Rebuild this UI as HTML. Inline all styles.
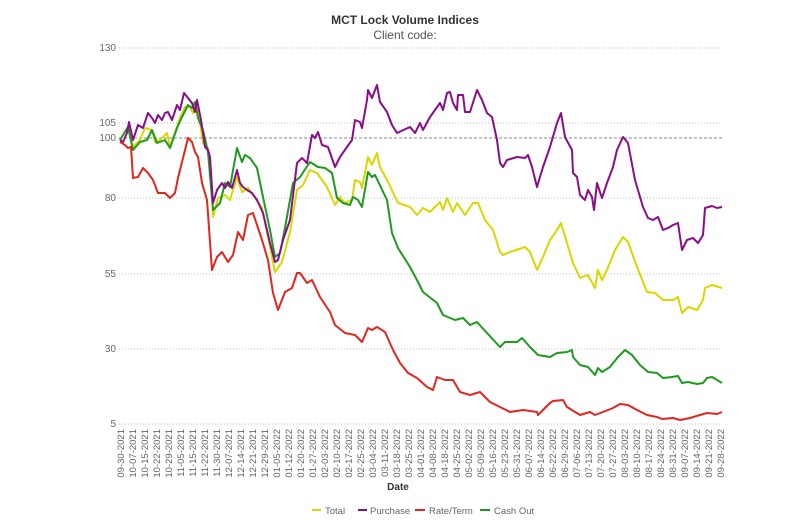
<!DOCTYPE html>
<html><head><meta charset="utf-8"><style>
html,body{margin:0;padding:0;background:#fff;}
svg{display:block;font-family:"Liberation Sans",sans-serif;}
</style></head><body>
<svg width="808" height="526" viewBox="0 0 808 526" xmlns="http://www.w3.org/2000/svg">
<text x="405" y="24" text-anchor="middle" font-size="12" font-weight="bold" fill="#333">MCT Lock Volume Indices</text>
<text x="405" y="39" text-anchor="middle" font-size="12" fill="#555">Client code:</text>
<g stroke="#bbb" stroke-width="1" stroke-dasharray="1,2">
<line x1="119" y1="48" x2="722" y2="48"/>
<line x1="119" y1="123" x2="722" y2="123"/>
<line x1="119" y1="198" x2="722" y2="198"/>
<line x1="119" y1="274" x2="722" y2="274"/>
<line x1="119" y1="349" x2="722" y2="349"/>
<line x1="119" y1="424" x2="722" y2="424"/>
</g>
<line x1="119" y1="138" x2="722" y2="138" stroke="#888" stroke-width="1" stroke-dasharray="3,2"/>
<g font-size="10" fill="#666" text-anchor="end">
<text x="116" y="51">130</text>
<text x="116" y="126">105</text>
<text x="116" y="141">100</text>
<text x="116" y="201">80</text>
<text x="116" y="277">55</text>
<text x="116" y="352">30</text>
<text x="116" y="427">5</text>
</g>
<g font-size="9.5" fill="#666" text-anchor="end" id="xl"></g>
<text x="398" y="490" text-anchor="middle" font-size="10" font-weight="bold" fill="#333">Date</text>
<g fill="none" stroke-width="2" stroke-linejoin="round">
<polyline stroke="#d8d800" points="120,140 128,127 133,147 140,140 145,128 152,130 155,142 160,140 167,133 170,147 177,127 180,118 185,107 190,107 193,113 197,102 203,143 208,148 212,190 213,217 218,198 225,195 230,200 237,177 242,192 248,188 253,195 262,208 268,237 275,272 282,262 290,232 297,190 303,185 310,170 317,173 327,187 335,205 340,197 345,203 352,200 355,180 360,182 362,188 368,157 372,165 377,153 380,167 388,182 398,203 410,207 417,215 423,208 430,212 440,202 443,210 447,198 453,212 457,203 465,215 473,203 478,203 485,220 493,230 500,252 503,255 510,252 525,247 530,252 537,270 543,257 550,240 557,230 561,223 567,243 573,263 580,278 588,275 595,288 598,270 602,280 607,270 615,250 623,237 628,242 637,267 647,292 655,293 663,300 673,300 678,297 682,313 688,307 697,310 703,300 705,288 712,285 722,288"/>
<polyline stroke="#1e9a1e" points="120,140 128,127 133,150 140,142 147,140 152,130 157,143 165,140 170,148 177,128 182,117 188,105 192,108 195,102 198,118 203,130 208,152 213,210 220,203 225,183 230,187 237,148 242,162 245,155 250,158 257,168 263,197 270,230 275,257 280,253 285,228 293,183 300,177 310,162 318,167 325,168 332,173 337,198 343,203 350,205 353,197 358,200 362,207 368,172 372,177 375,175 387,200 392,233 398,248 410,267 418,282 423,292 437,303 443,315 455,320 463,318 470,325 477,322 487,333 500,347 505,342 517,342 522,338 530,347 538,355 550,357 557,353 567,352 572,350 573,357 580,365 588,367 595,375 598,368 602,372 610,367 618,357 625,350 632,355 640,365 648,372 657,373 663,378 672,377 678,376 682,383 688,382 697,384 703,383 707,378 712,377 722,383"/>
<polyline stroke="#8a0d8a" points="120,140 123,142 127,133 129,122 133,140 138,125 143,128 148,113 152,118 155,123 158,115 162,120 165,113 168,112 172,120 177,105 180,110 184,93 188,98 192,103 195,112 197,100 201,120 205,147 208,150 210,157 213,203 217,190 222,183 225,188 228,182 232,188 237,170 240,183 243,187 247,190 252,193 257,200 263,213 270,243 275,262 278,260 283,240 290,220 297,163 302,158 307,163 312,135 315,138 318,132 322,145 328,147 335,167 340,157 347,147 352,140 355,120 360,122 362,128 367,100 368,90 372,98 377,85 380,102 387,112 392,125 397,133 410,127 415,133 420,123 423,130 430,117 440,103 443,110 447,93 450,92 453,103 457,110 458,95 463,95 465,112 470,112 477,90 482,100 487,113 492,117 497,140 500,163 503,167 507,160 517,157 525,158 528,155 532,167 537,187 543,167 550,147 557,123 561,113 565,137 572,150 573,173 577,177 580,195 585,200 588,190 592,197 594,210 597,183 602,198 607,183 613,167 617,150 623,137 628,143 635,180 643,207 648,218 653,220 658,217 663,230 668,228 673,225 678,223 682,250 687,240 693,238 698,243 703,235 705,208 712,206 717,208 722,207"/>
<polyline stroke="#e0261e" points="120,142 125,145 128,148 131,147 133,178 138,177 143,168 148,173 153,180 158,193 165,193 170,198 175,193 178,178 183,158 188,138 192,142 195,152 198,157 202,183 207,200 212,270 217,257 222,252 228,262 233,255 238,232 243,240 248,215 253,213 262,240 268,260 273,293 278,310 285,292 292,288 297,273 300,273 307,283 312,280 320,297 330,312 335,325 345,333 355,335 362,342 368,328 372,330 377,327 385,332 393,350 400,363 408,373 417,378 427,387 433,390 437,377 445,380 453,380 460,392 470,395 480,392 490,402 500,407 510,412 523,410 537,412 538,415 550,403 553,401 563,400 567,407 580,415 590,412 595,415 603,412 613,408 620,404 628,405 637,410 647,415 657,417 662,419 673,418 680,420 690,418 700,415 707,413 717,414 722,412"/>
</g>
<g stroke-width="2">
<line x1="312" y1="510" x2="321" y2="510" stroke="#d8d800"/>
<line x1="358" y1="510" x2="367" y2="510" stroke="#8a0d8a"/>
<line x1="415" y1="510" x2="425" y2="510" stroke="#e0261e"/>
<line x1="480" y1="510" x2="490" y2="510" stroke="#1e9a1e"/>
</g>
<g font-size="9.5" fill="#666">
<text x="325" y="514">Total</text>
<text x="370" y="514">Purchase</text>
<text x="429" y="514">Rate/Term</text>
<text x="494" y="514">Cash Out</text>
</g>
<g font-size="9.5" fill="#666" text-anchor="end">
<text transform="translate(124,429) rotate(-90)">09-30-2021</text>
<text transform="translate(136,429) rotate(-90)">10-07-2021</text>
<text transform="translate(148,429) rotate(-90)">10-15-2021</text>
<text transform="translate(160,429) rotate(-90)">10-22-2021</text>
<text transform="translate(172,429) rotate(-90)">10-29-2021</text>
<text transform="translate(184,429) rotate(-90)">11-05-2021</text>
<text transform="translate(196,429) rotate(-90)">11-15-2021</text>
<text transform="translate(208,429) rotate(-90)">11-22-2021</text>
<text transform="translate(220,429) rotate(-90)">11-30-2021</text>
<text transform="translate(232,429) rotate(-90)">12-07-2021</text>
<text transform="translate(244,429) rotate(-90)">12-14-2021</text>
<text transform="translate(256,429) rotate(-90)">12-21-2021</text>
<text transform="translate(268,429) rotate(-90)">12-29-2021</text>
<text transform="translate(280,429) rotate(-90)">01-05-2022</text>
<text transform="translate(292,429) rotate(-90)">01-12-2022</text>
<text transform="translate(304,429) rotate(-90)">01-20-2022</text>
<text transform="translate(316,429) rotate(-90)">01-27-2022</text>
<text transform="translate(328,429) rotate(-90)">02-03-2022</text>
<text transform="translate(340,429) rotate(-90)">02-10-2022</text>
<text transform="translate(352,429) rotate(-90)">02-17-2022</text>
<text transform="translate(364,429) rotate(-90)">02-25-2022</text>
<text transform="translate(376,429) rotate(-90)">03-04-2022</text>
<text transform="translate(388,429) rotate(-90)">03-11-2022</text>
<text transform="translate(400,429) rotate(-90)">03-18-2022</text>
<text transform="translate(412,429) rotate(-90)">03-25-2022</text>
<text transform="translate(424,429) rotate(-90)">04-01-2022</text>
<text transform="translate(436,429) rotate(-90)">04-08-2022</text>
<text transform="translate(448,429) rotate(-90)">04-18-2022</text>
<text transform="translate(460,429) rotate(-90)">04-25-2022</text>
<text transform="translate(472,429) rotate(-90)">05-02-2022</text>
<text transform="translate(484,429) rotate(-90)">05-09-2022</text>
<text transform="translate(496,429) rotate(-90)">05-16-2022</text>
<text transform="translate(508,429) rotate(-90)">05-23-2022</text>
<text transform="translate(520,429) rotate(-90)">05-31-2022</text>
<text transform="translate(532,429) rotate(-90)">06-07-2022</text>
<text transform="translate(544,429) rotate(-90)">06-14-2022</text>
<text transform="translate(556,429) rotate(-90)">06-22-2022</text>
<text transform="translate(568,429) rotate(-90)">06-29-2022</text>
<text transform="translate(580,429) rotate(-90)">07-06-2022</text>
<text transform="translate(592,429) rotate(-90)">07-13-2022</text>
<text transform="translate(604,429) rotate(-90)">07-20-2022</text>
<text transform="translate(616,429) rotate(-90)">07-27-2022</text>
<text transform="translate(628,429) rotate(-90)">08-03-2022</text>
<text transform="translate(640,429) rotate(-90)">08-10-2022</text>
<text transform="translate(652,429) rotate(-90)">08-17-2022</text>
<text transform="translate(664,429) rotate(-90)">08-24-2022</text>
<text transform="translate(676,429) rotate(-90)">08-31-2022</text>
<text transform="translate(688,429) rotate(-90)">09-07-2022</text>
<text transform="translate(700,429) rotate(-90)">09-14-2022</text>
<text transform="translate(712,429) rotate(-90)">09-21-2022</text>
<text transform="translate(724,429) rotate(-90)">09-28-2022</text>
</g>
</svg>
</body></html>
